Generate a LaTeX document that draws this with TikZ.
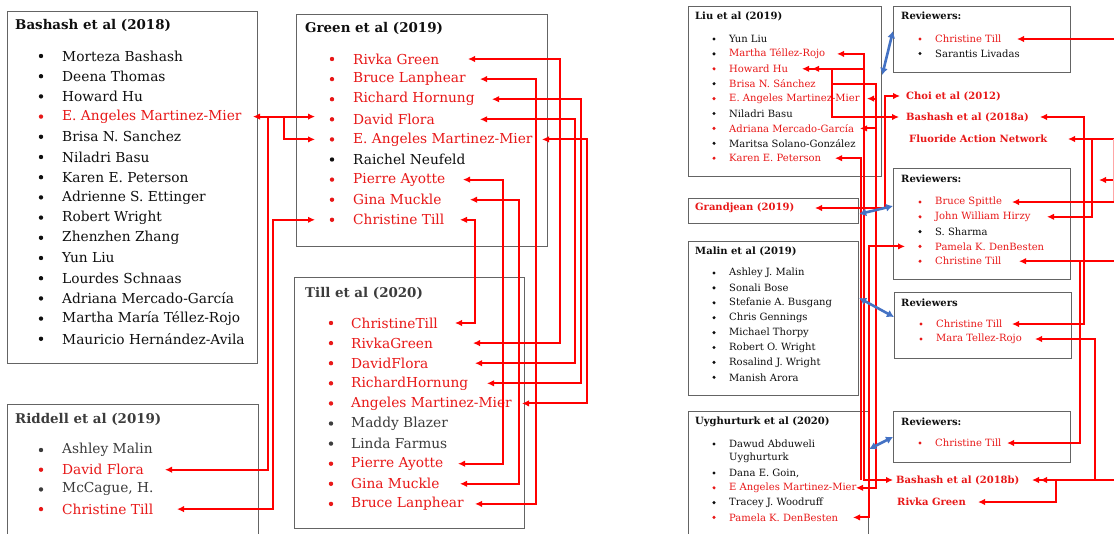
\documentclass[tikz,border=0pt]{standalone}
\usepackage{fontspec}
\setmainfont{DejaVu Serif}
\usetikzlibrary{arrows.meta,calc}
\definecolor{lred}{RGB}{255,0,0}
\definecolor{tred}{RGB}{232,24,24}
\definecolor{bx}{RGB}{100,100,100}
\definecolor{tblk}{RGB}{15,15,15}
\definecolor{tgry}{RGB}{60,60,60}
\definecolor{lblue}{RGB}{68,114,196}
\tikzset{
  box/.style={draw=bx,line width=1.2pt,inner sep=0pt,anchor=north west},
  Lf/.style={anchor=west,inner sep=0pt,font=\fontsize{13.75}{16}\selectfont},
  Lt/.style={anchor=west,inner sep=0pt,font=\fontsize{13.4}{16}\selectfont\bfseries},
  Sf/.style={anchor=west,inner sep=0pt,font=\fontsize{10}{12}\selectfont},
  St/.style={anchor=west,inner sep=0pt,font=\fontsize{10}{12}\selectfont\bfseries},
  rl/.style={draw=lred,line width=2pt},
  ab/.style={rl,{Latex[length=7pt,width=6.5pt]}-{Latex[length=7pt,width=6.5pt]}},
  ae/.style={rl,-{Latex[length=7pt,width=6.5pt]}},
  as/.style={rl,{Latex[length=7pt,width=6.5pt]}-},
  bl/.style={draw=lblue,line width=2.6pt,{Latex[length=7pt,width=8pt]}-{Latex[length=7pt,width=8pt]}},
}
\begin{document}
\begin{tikzpicture}[x=1pt,y=-1pt]
\useasboundingbox (0,0) rectangle (1114,533);
\fill[white] (0,0) rectangle (1114,533);
% ---------- boxes
\node[box,minimum width=250,minimum height=352] (boxB) at (7,11) {};
\node[box,minimum width=251,minimum height=232] (boxG) at (296,14) {};
\node[box,minimum width=251,minimum height=150] (boxRd) at (7,404) {};
\node[box,minimum width=230,minimum height=251] (boxT) at (294,277) {};
\node[box,minimum width=193,minimum height=170] (boxL) at (688,6) {};
\node[box,minimum width=177,minimum height=66] (boxR1) at (893,6) {};
\node[box,minimum width=170,minimum height=25] (boxGj) at (688,198) {};
\node[box,minimum width=177,minimum height=111] (boxR2) at (893,168) {};
\node[box,minimum width=170,minimum height=154] (boxM) at (688,241) {};
\node[box,minimum width=177,minimum height=66] (boxR3) at (894,292) {};
\node[box,minimum width=180,minimum height=140] (boxU) at (688,411) {};
\node[box,minimum width=177,minimum height=51] (boxR4) at (893,411) {};
% ---------- titles
\node[Lt,text=tblk] (tB) at (15,25) {Bashash et al (2018)};
\node[Lt,text=tblk] (tG) at (305,28) {Green et al (2019)};
\node[Lt,text=tgry] (tRd) at (15,419) {Riddell et al (2019)};
\node[Lt,text=tgry] (tT) at (305,293) {Till et al (2020)};
\node[St,text=tblk] (tL) at (695,16) {Liu et al (2019)};
\node[St,text=tblk] (tR1) at (901,16) {Reviewers:};
\node[St,text=tblk] (tR2) at (901,179) {Reviewers:};
\node[St,text=tblk] (tR3) at (901,303) {Reviewers};
\node[St,text=tblk] (tR4) at (901,422) {Reviewers:};
\node[St,text=tblk] (tM) at (695,251) {Malin et al (2019)};
\node[St,text=tblk] (tU) at (695,422) {Uyghurturk et al (2020)};
% ---------- free red labels
\node[St,text=tred] (gj) at (695,208) {Grandjean (2019)};
\node[St,text=tred] (ch) at (906,96) {Choi et al (2012)};
\node[St,text=tred] (ba) at (906,117) {Bashash et al (2018a)};
\node[St,text=tred] (fan) at (909,139) {Fluoride Action Network};
\node[St,text=tred] (bb) at (896,480) {Bashash et al (2018b)};
\node[St,text=tred] (rg) at (897,502) {Rivka Green};
% ---------- left lists
\foreach \t/\c [count=\i] in {Morteza Bashash/tblk,Deena Thomas/tblk,Howard Hu/tblk,E. Angeles Martinez-Mier/tred,Brisa N. Sanchez/tblk,Niladri Basu/tblk,Karen E. Peterson/tblk,Adrienne S. Ettinger/tblk,Robert Wright/tblk,Zhenzhen Zhang/tblk,Yun Liu/tblk,Lourdes Schnaas/tblk,Adriana Mercado-García/tblk,Martha María Téllez-Rojo/tblk,Mauricio Hernández-Avila/tblk}{
  \node[Lf,text=\c] (b\i) at (62,{56+20.2*(\i-1)}) {\t};
  \fill[\c] (41,{56+20.2*(\i-1)}) circle (2.2pt);
}
\foreach \t/\c [count=\i] in {Rivka Green/tred,Bruce Lanphear/tred,Richard Hornung/tred,David Flora/tred,E. Angeles Martinez-Mier/tred,Raichel Neufeld/tblk,Pierre Ayotte/tred,Gina Muckle/tred,Christine Till/tred}{
  \node[Lf,text=\c] (g\i) at (353,{59+20.1*(\i-1)}) {\t};
  \fill[\c] (332,{59+20.1*(\i-1)}) circle (2.2pt);
}
\foreach \t/\c [count=\i] in {Ashley Malin/tgry,David Flora/tred,{McCague, H.}/tgry,Christine Till/tred}{
  \node[Lf,text=\c] (r\i) at (62,{450+19.7*(\i-1)}) {\t};
  \fill[\c] (41,{450+19.7*(\i-1)}) circle (2.2pt);
}
\foreach \t/\c [count=\i] in {ChristineTill/tred,RivkaGreen/tred,DavidFlora/tred,RichardHornung/tred,Angeles Martinez-Mier/tred,Maddy Blazer/tgry,Linda Farmus/tgry,Pierre Ayotte/tred,Gina Muckle/tred,Bruce Lanphear/tred}{
  \node[Lf,text=\c] (t\i) at (351,{323+20.1*(\i-1)}) {\t};
  \fill[\c] (331,{323+20.1*(\i-1)}) circle (2.2pt);
}
% ---------- right lists
\foreach \t/\d/\c [count=\i] in {Yun Liu/tblk/tblk,Martha Téllez-Rojo/tblk/tred,Howard Hu/tred/tred,Brisa N. Sánchez/tblk/tred,E. Angeles Martinez-Mier/tred/tred,Niladri Basu/tblk/tblk,Adriana Mercado-García/tred/tred,Maritsa Solano-González/tblk/tblk,Karen E. Peterson/tred/tred}{
  \node[Sf,text=\c] (l\i) at (729,{39+14.9*(\i-1)}) {\t};
  \fill[\d] (714,{39+14.9*(\i-1)}) circle (1.7pt);
}
\foreach \t/\c [count=\i] in {Christine Till/tred,Sarantis Livadas/tblk}{
  \node[Sf,text=\c] (w\i) at (935,{39+14.5*(\i-1)}) {\t};
  \fill[\c] (920,{39+14.5*(\i-1)}) circle (1.7pt);
}
\foreach \t/\c [count=\i] in {Bruce Spittle/tred,John William Hirzy/tred,S. Sharma/tblk,Pamela K. DenBesten/tred,Christine Till/tred}{
  \node[Sf,text=\c] (v\i) at (935,{202+14.8*(\i-1)}) {\t};
  \fill[\c] (920,{202+14.8*(\i-1)}) circle (1.7pt);
}
\foreach \t/\c [count=\i] in {Christine Till/tred,Mara Tellez-Rojo/tred}{
  \node[Sf,text=\c] (q\i) at (936,{324+15*(\i-1)}) {\t};
  \fill[\c] (921,{324+15*(\i-1)}) circle (1.7pt);
}
\node[Sf,text=tred] (p1) at (935,443) {Christine Till};
\fill[tred] (920,443) circle (1.7pt);
\foreach \t [count=\i] in {Ashley J. Malin,Sonali Bose,Stefanie A. Busgang,Chris Gennings,Michael Thorpy,Robert O. Wright,Rosalind J. Wright,Manish Arora}{
  \node[Sf,text=tblk] (m\i) at (729,{273+14.9*(\i-1)}) {\t};
  \fill[tblk] (714,{273+14.9*(\i-1)}) circle (1.7pt);
}
\node[Sf,text=tblk] (u1) at (729,444) {Dawud Abduweli};
\node[Sf,text=tblk] (u1b) at (729,458) {Uyghurturk};
\fill[tblk] (714,444) circle (1.7pt);
\foreach \t/\c [count=\i from 2] in {{Dana E. Goin,}/tblk,E Angeles Martinez-Mier/tred,Tracey J. Woodruff/tblk,Pamela K. DenBesten/tred}{
  \node[Sf,text=\c] (u\i) at (729,{473+14.8*(\i-2)}) {\t};
  \fill[\c] (714,{473+14.8*(\i-2)}) circle (1.7pt);
}
% ---------- left connectors
\coordinate (k268) at (268,0);
\coordinate (k273) at (273,0);
\coordinate (k284) at (284,0);
\draw[ab] (b4.east -| 253,0) -- (b4.east -| 315,0);
\draw[ae] (k284 |- b4.east) |- (g5.west -| 315,0);
\draw[ae] (k268 |- b4.east) |- (r2.east -| 165,0);
\draw[ab] (g9.west -| 315,0) -| (k273 |- r4.east) -- (r4.east -| 177,0);
\draw[ab] (g1.east -| 468,0) -| (560,0 |- t2.east) -- (t2.east -| 473,0);
\draw[ab] (g2.east -| 480,0) -| (536,0 |- t10.east) -- (t10.east -| 475,0);
\draw[ab] (g3.east -| 492,0) -| (581,0 |- t4.east) -- (t4.east -| 487,0);
\draw[ab] (g4.east -| 480,0) -| (575,0 |- t3.east) -- (t3.east -| 475,0);
\draw[ab] (g5.east -| 542,0) -| (587,0 |- t5.east) -- (t5.east -| 522,0);
\draw[ab] (g7.east -| 463,0) -| (503,0 |- t8.east) -- (t8.east -| 458,0);
\draw[ab] (g8.east -| 470,0) -| (519,0 |- t9.east) -- (t9.east -| 460,0);
\draw[ab] (g9.east -| 460,0) -| (475,0 |- t1.east) -- (t1.east -| 455,0);
% ---------- right connectors (corridor)
\draw[ab] (l2.east -| 837,0) -| (864,0 |- bb.west) -- (bb.west -| 893,0);
\draw[as] (l9.east -| 835,0) -| (861,0 |- bb.west);
\draw[as] (l3.east -| 802,0) -- (l3.east -| 864,0);
\draw[as] (l3.east -| 812,0) -- (l3.east -| 832,0);
\draw[ae] (832,0 |- l3.east) |- (ba.west -| 899,0);
\draw[ae] (832,0 |- l4.east) -| (876,0 |- u3.east) -- (u3.east -| 856,0);
\draw[as] (l5.east -| 867,0) -- (l5.east -| 876,0);
\draw[as] (l7.east -| 860,0) -- (l7.east -| 876,0);
\draw[ab] (gj.east -| 815,0) -| (885,0 |- ch.west) -- (ch.west -| 900,0);
\draw[ab] (u5.east -| 853,0) -| (869,0 |- v4.west) -- (v4.west -| 905,0);
% ---------- right connectors (east side)
\coordinate (e1) at (w1.east -| 1114,0);
\coordinate (e2) at (fan.east -| 1114,0);
\coordinate (e3) at (v1.east -| 1114,0);
\coordinate (e4) at (v5.east -| 1114,0);
\coordinate (e5) at (bb.east -| 1114,0);
\coordinate (e6) at (1114,180);
\draw[as] (w1.east -| 1017,0) -- (e1);
\draw[ab] (ba.east -| 1040,0) -| (1084,0 |- q1.east) -- (q1.east -| 1012,0);
\draw[as] (v5.east -| 1019,0) -- (e4);
\draw[ae] (1080,0 |- v5.east) |- (p1.east -| 1007,0);
\draw[as] (fan.east -| 1068,0) -- (e2);
\draw[ae] (1092,0 |- fan.east) |- (v2.east -| 1047,0);
\draw[as] (v1.east -| 1012,0) -- (e3);
\draw[ae] (e6) -- (1099,180);
\draw[draw=lred!35,line width=0.8pt] (e2) ++(-1,0) -- ++(0,62);
\draw[ab] (q2.east -| 1035,0) -| (1095,0 |- bb.east) -- (bb.east -| 1032,0);
\draw[rl] (1095,0 |- bb.east) -- (e5);
\draw[ab] (bb.east -| 1040,0) -| (1056,0 |- rg.east) -- (rg.east -| 978,0);
% ---------- blue links
\draw[bl] (boxL.east |- 0,75) -- (boxR1.west |- 0,31);
\draw[bl] (boxGj.east |- 0,214) -- (boxR2.west |- 0,206);
\draw[bl] (boxM.east |- 0,298) -- (boxR3.west |- 0,317);
\draw[bl] (boxU.east |- 0,449) -- (boxR4.west |- 0,437);
\end{tikzpicture}
\end{document}
